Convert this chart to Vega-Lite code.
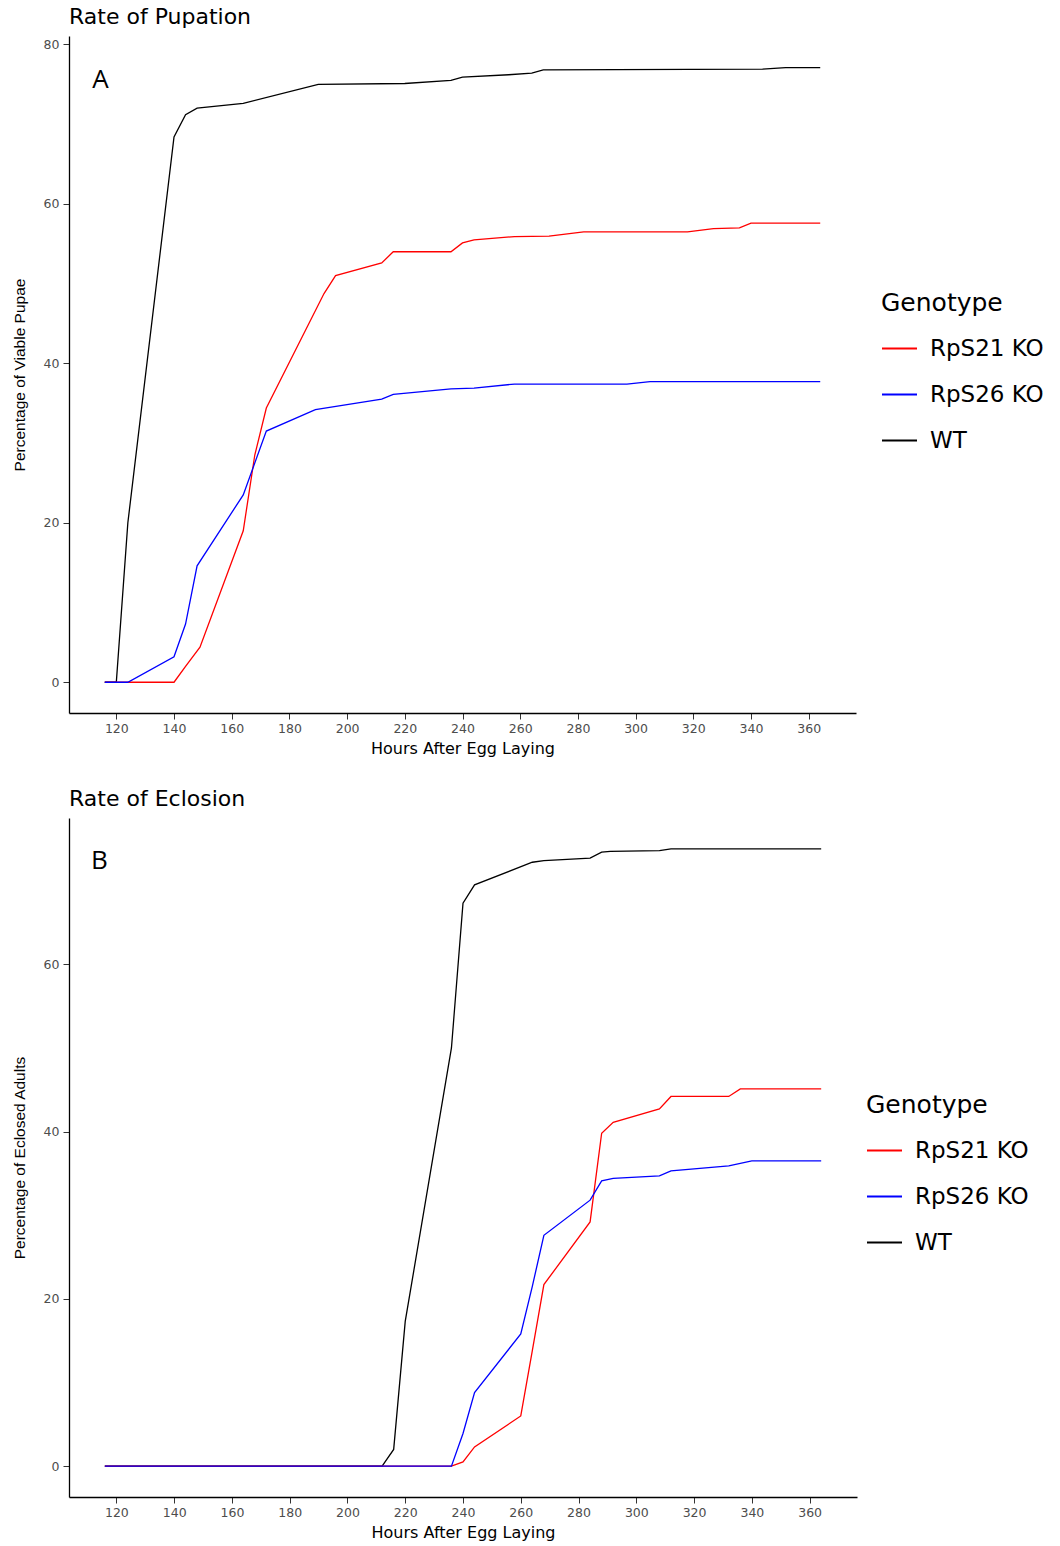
{
  "$schema": "https://vega.github.io/schema/vega-lite/v6.json",
  "background": "white",
  "padding": {"left": 12, "top": 6, "right": 0, "bottom": 0},
  "autosize": {"type": "pad"},
  "datasets": {
    "pupation": [
      {"genotype": "WT", "hours": 116, "pct": 0},
      {"genotype": "WT", "hours": 120, "pct": 0},
      {"genotype": "WT", "hours": 124, "pct": 20},
      {"genotype": "WT", "hours": 140, "pct": 68.4},
      {"genotype": "WT", "hours": 144, "pct": 71.2},
      {"genotype": "WT", "hours": 148, "pct": 72.0},
      {"genotype": "WT", "hours": 164, "pct": 72.6},
      {"genotype": "WT", "hours": 190, "pct": 75.0},
      {"genotype": "WT", "hours": 220, "pct": 75.1},
      {"genotype": "WT", "hours": 236, "pct": 75.5},
      {"genotype": "WT", "hours": 240, "pct": 75.9},
      {"genotype": "WT", "hours": 256, "pct": 76.2},
      {"genotype": "WT", "hours": 264, "pct": 76.4},
      {"genotype": "WT", "hours": 268, "pct": 76.8},
      {"genotype": "WT", "hours": 344, "pct": 76.9},
      {"genotype": "WT", "hours": 352, "pct": 77.1},
      {"genotype": "WT", "hours": 364, "pct": 77.1},
      {"genotype": "RpS21 KO", "hours": 116, "pct": 0},
      {"genotype": "RpS21 KO", "hours": 124, "pct": 0},
      {"genotype": "RpS21 KO", "hours": 140, "pct": 0},
      {"genotype": "RpS21 KO", "hours": 144, "pct": 2.0},
      {"genotype": "RpS21 KO", "hours": 149, "pct": 4.4},
      {"genotype": "RpS21 KO", "hours": 164, "pct": 19.0},
      {"genotype": "RpS21 KO", "hours": 168, "pct": 28.5},
      {"genotype": "RpS21 KO", "hours": 172, "pct": 34.4},
      {"genotype": "RpS21 KO", "hours": 192, "pct": 48.75},
      {"genotype": "RpS21 KO", "hours": 196, "pct": 51.0},
      {"genotype": "RpS21 KO", "hours": 212, "pct": 52.6},
      {"genotype": "RpS21 KO", "hours": 216, "pct": 54.0},
      {"genotype": "RpS21 KO", "hours": 236, "pct": 54.0},
      {"genotype": "RpS21 KO", "hours": 240, "pct": 55.1},
      {"genotype": "RpS21 KO", "hours": 244, "pct": 55.5},
      {"genotype": "RpS21 KO", "hours": 258, "pct": 55.9},
      {"genotype": "RpS21 KO", "hours": 270, "pct": 55.95},
      {"genotype": "RpS21 KO", "hours": 282, "pct": 56.5},
      {"genotype": "RpS21 KO", "hours": 318, "pct": 56.5},
      {"genotype": "RpS21 KO", "hours": 327, "pct": 56.9},
      {"genotype": "RpS21 KO", "hours": 336, "pct": 57.0},
      {"genotype": "RpS21 KO", "hours": 340, "pct": 57.6},
      {"genotype": "RpS21 KO", "hours": 364, "pct": 57.6},
      {"genotype": "RpS26 KO", "hours": 116, "pct": 0},
      {"genotype": "RpS26 KO", "hours": 124, "pct": 0},
      {"genotype": "RpS26 KO", "hours": 140, "pct": 3.2},
      {"genotype": "RpS26 KO", "hours": 144, "pct": 7.3},
      {"genotype": "RpS26 KO", "hours": 148, "pct": 14.6},
      {"genotype": "RpS26 KO", "hours": 164, "pct": 23.5},
      {"genotype": "RpS26 KO", "hours": 172, "pct": 31.5},
      {"genotype": "RpS26 KO", "hours": 189, "pct": 34.2},
      {"genotype": "RpS26 KO", "hours": 212, "pct": 35.5},
      {"genotype": "RpS26 KO", "hours": 216, "pct": 36.1},
      {"genotype": "RpS26 KO", "hours": 236, "pct": 36.8},
      {"genotype": "RpS26 KO", "hours": 244, "pct": 36.9},
      {"genotype": "RpS26 KO", "hours": 258, "pct": 37.4},
      {"genotype": "RpS26 KO", "hours": 297, "pct": 37.4},
      {"genotype": "RpS26 KO", "hours": 305, "pct": 37.7},
      {"genotype": "RpS26 KO", "hours": 364, "pct": 37.7}
    ],
    "eclosion": [
      {"genotype": "WT", "hours": 116, "pct": 0},
      {"genotype": "WT", "hours": 212, "pct": 0},
      {"genotype": "WT", "hours": 216, "pct": 2.0},
      {"genotype": "WT", "hours": 220, "pct": 17.3},
      {"genotype": "WT", "hours": 236, "pct": 50.0},
      {"genotype": "WT", "hours": 240, "pct": 67.3},
      {"genotype": "WT", "hours": 244, "pct": 69.5},
      {"genotype": "WT", "hours": 264, "pct": 72.2},
      {"genotype": "WT", "hours": 268, "pct": 72.4},
      {"genotype": "WT", "hours": 284, "pct": 72.7},
      {"genotype": "WT", "hours": 288, "pct": 73.4},
      {"genotype": "WT", "hours": 291, "pct": 73.5},
      {"genotype": "WT", "hours": 308, "pct": 73.6},
      {"genotype": "WT", "hours": 312, "pct": 73.8},
      {"genotype": "WT", "hours": 364, "pct": 73.8},
      {"genotype": "RpS21 KO", "hours": 116, "pct": 0},
      {"genotype": "RpS21 KO", "hours": 236, "pct": 0},
      {"genotype": "RpS21 KO", "hours": 240, "pct": 0.5},
      {"genotype": "RpS21 KO", "hours": 244, "pct": 2.3},
      {"genotype": "RpS21 KO", "hours": 260, "pct": 6.0},
      {"genotype": "RpS21 KO", "hours": 264, "pct": 13.8},
      {"genotype": "RpS21 KO", "hours": 268, "pct": 21.7},
      {"genotype": "RpS21 KO", "hours": 284, "pct": 29.2},
      {"genotype": "RpS21 KO", "hours": 288, "pct": 39.8},
      {"genotype": "RpS21 KO", "hours": 292, "pct": 41.1},
      {"genotype": "RpS21 KO", "hours": 308, "pct": 42.7},
      {"genotype": "RpS21 KO", "hours": 312, "pct": 44.2},
      {"genotype": "RpS21 KO", "hours": 332, "pct": 44.2},
      {"genotype": "RpS21 KO", "hours": 336, "pct": 45.1},
      {"genotype": "RpS21 KO", "hours": 364, "pct": 45.1},
      {"genotype": "RpS26 KO", "hours": 116, "pct": 0},
      {"genotype": "RpS26 KO", "hours": 236, "pct": 0},
      {"genotype": "RpS26 KO", "hours": 240, "pct": 3.9},
      {"genotype": "RpS26 KO", "hours": 244, "pct": 8.8},
      {"genotype": "RpS26 KO", "hours": 260, "pct": 15.8},
      {"genotype": "RpS26 KO", "hours": 264, "pct": 21.5},
      {"genotype": "RpS26 KO", "hours": 268, "pct": 27.6},
      {"genotype": "RpS26 KO", "hours": 284, "pct": 31.8},
      {"genotype": "RpS26 KO", "hours": 288, "pct": 34.1},
      {"genotype": "RpS26 KO", "hours": 292, "pct": 34.4},
      {"genotype": "RpS26 KO", "hours": 308, "pct": 34.7},
      {"genotype": "RpS26 KO", "hours": 312, "pct": 35.3},
      {"genotype": "RpS26 KO", "hours": 332, "pct": 35.9},
      {"genotype": "RpS26 KO", "hours": 340, "pct": 36.5},
      {"genotype": "RpS26 KO", "hours": 364, "pct": 36.5}
    ]
  },
  "config": {
    "view": {"stroke": null},
    "font": "DejaVu Sans",
    "axis": {
      "grid": false,
      "domainColor": "#000000",
      "domainWidth": 1.3,
      "tickColor": "#333333",
      "tickSize": 6,
      "labelColor": "#4D4D4D",
      "labelFont": "DejaVu Sans",
      "labelFontSize": 12.5,
      "labelPadding": 3,
      "titleFont": "DejaVu Sans",
      "titleFontWeight": "normal",
      "titleColor": "#000000"
    },
    "axisX": {"titleFontSize": 16, "titlePadding": 6},
    "axisY": {"titleFont": "Liberation Sans", "titleFontSize": 15.5, "titlePadding": 16, "labelPadding": 4},
    "legend": {
      "orient": "none",
      "padding": 0,
      "titleFont": "DejaVu Sans",
      "titleFontSize": 25,
      "titleFontWeight": "normal",
      "titleColor": "#000000",
      "titlePadding": 14,
      "labelFont": "DejaVu Sans",
      "labelFontSize": 23,
      "labelColor": "#000000",
      "labelOffset": 12,
      "symbolType": "stroke",
      "symbolSize": 1225,
      "symbolStrokeWidth": 2,
      "rowPadding": 15
    },
    "concat": {"spacing": 31}
  },
  "resolve": {"scale": {"color": "independent"}, "legend": {"color": "independent"}},
  "vconcat": [
    {
      "title": {"text": "Rate of Pupation", "anchor": "start", "frame": "group", "fontSize": 22, "font": "DejaVu Sans", "fontWeight": "normal", "color": "#000000", "offset": 7},
      "width": 787,
      "height": 677,
      "layer": [
        {
          "data": {"name": "pupation"},
          "mark": {"type": "line", "strokeWidth": 1.3},
          "encoding": {
            "x": {"field": "hours", "type": "quantitative", "scale": {"domain": [103.6, 376.4], "nice": false, "zero": false}, "axis": {"values": [120, 140, 160, 180, 200, 220, 240, 260, 280, 300, 320, 340, 360], "title": "Hours After Egg Laying"}},
            "y": {"field": "pct", "type": "quantitative", "scale": {"domain": [-3.86, 81.06], "nice": false, "zero": false}, "axis": {"values": [0, 20, 40, 60, 80], "title": "Percentage of Viable Pupae"}},
            "color": {"field": "genotype", "type": "nominal", "scale": {"domain": ["RpS21 KO", "RpS26 KO", "WT"], "range": ["#FF0000", "#0000FF", "#000000"]}, "legend": {"title": "Genotype", "legendX": 812, "legendY": 255}}
          }
        },
        {
          "data": {"values": [{}]},
          "mark": {"type": "text", "text": "A", "font": "Open Sans", "fontSize": 26, "align": "center", "baseline": "middle", "color": "#000000"},
          "encoding": {"x": {"datum": 114.5, "type": "quantitative"}, "y": {"datum": 75.5, "type": "quantitative"}}
        }
      ]
    },
    {
      "title": {"text": "Rate of Eclosion", "anchor": "start", "frame": "group", "fontSize": 22, "font": "DejaVu Sans", "fontWeight": "normal", "color": "#000000", "offset": 7},
      "width": 788,
      "height": 679,
      "layer": [
        {
          "data": {"name": "eclosion"},
          "mark": {"type": "line", "strokeWidth": 1.3},
          "encoding": {
            "x": {"field": "hours", "type": "quantitative", "scale": {"domain": [103.6, 376.4], "nice": false, "zero": false}, "axis": {"values": [120, 140, 160, 180, 200, 220, 240, 260, 280, 300, 320, 340, 360], "title": "Hours After Egg Laying"}},
            "y": {"field": "pct", "type": "quantitative", "scale": {"domain": [-3.69, 77.49], "nice": false, "zero": false}, "axis": {"values": [0, 20, 40, 60], "title": "Percentage of Eclosed Adults"}},
            "color": {"field": "genotype", "type": "nominal", "scale": {"domain": ["RpS21 KO", "RpS26 KO", "WT"], "range": ["#FF0000", "#0000FF", "#000000"]}, "legend": {"title": "Genotype", "legendX": 797, "legendY": 275}}
          }
        },
        {
          "data": {"values": [{}]},
          "mark": {"type": "text", "text": "B", "font": "Open Sans", "fontSize": 26, "align": "center", "baseline": "middle", "color": "#000000"},
          "encoding": {"x": {"datum": 114.1, "type": "quantitative"}, "y": {"datum": 72.3, "type": "quantitative"}}
        }
      ]
    }
  ]
}
